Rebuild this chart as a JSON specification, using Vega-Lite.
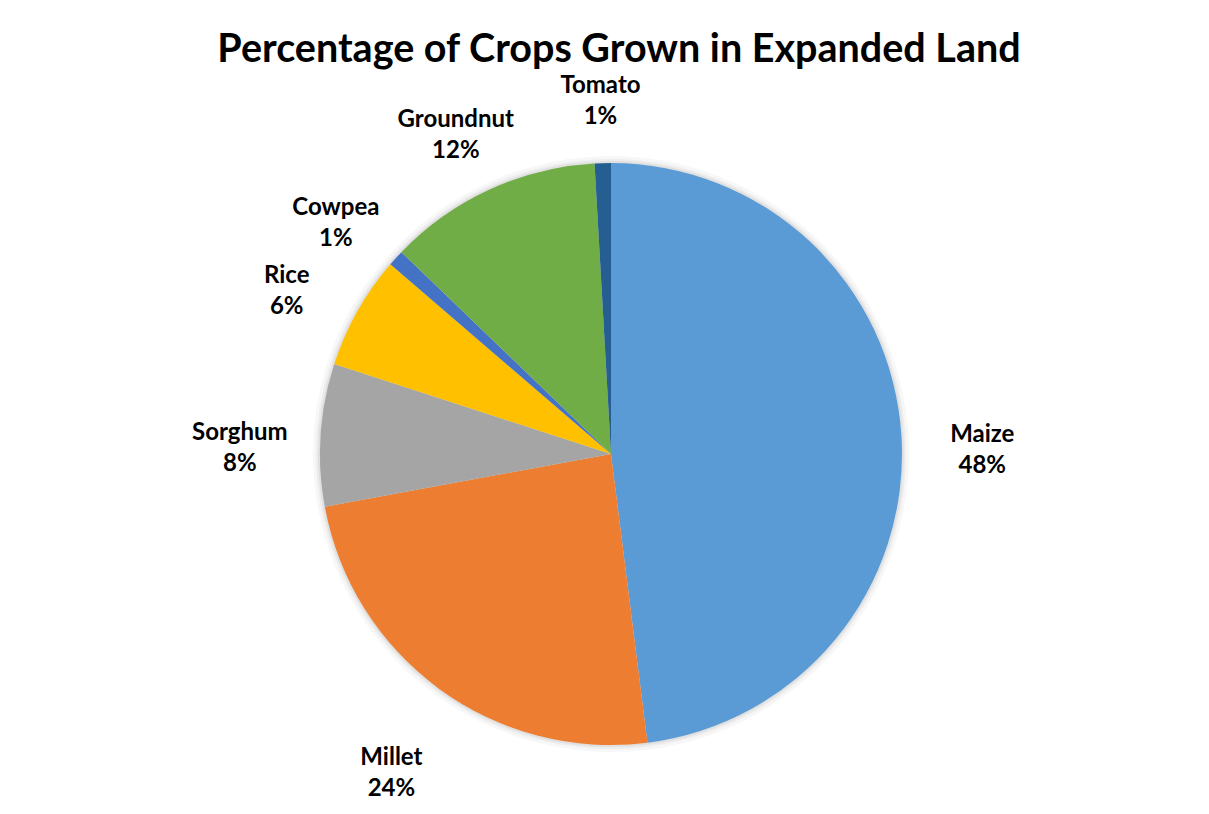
{
  "$schema": "https://vega.github.io/schema/vega-lite/v6.json",
  "width": 1196,
  "height": 720,
  "autosize": {"type": "none"},
  "padding": {"left": 13, "right": 0, "top": 94, "bottom": 0},
  "background": "white",
  "title": {
    "text": "Percentage of Crops Grown in Expanded Land",
    "font": "Lato",
    "fontSize": 39.5,
    "fontWeight": "bold",
    "color": "#000000",
    "offset": 31,
    "dy": 58,
    "dx": 8,
    "baseline": "alphabetic",
    "anchor": "middle"
  },
  "data": {
    "values": [
      {"crop": "Maize", "value": 0.48, "order": 1},
      {"crop": "Millet", "value": 0.241, "order": 2},
      {"crop": "Sorghum", "value": 0.079, "order": 3},
      {"crop": "Rice", "value": 0.063, "order": 4},
      {"crop": "Cowpea", "value": 0.009, "order": 5},
      {"crop": "Groundnut", "value": 0.119, "order": 6},
      {"crop": "Tomato", "value": 0.009, "order": 7}
    ]
  },
  "encoding": {
    "theta": {"field": "value", "type": "quantitative", "stack": true},
    "order": {"field": "order", "type": "quantitative"},
    "detail": {"field": "crop", "type": "nominal"}
  },
  "layer": [
    {"mark": {"type": "arc", "outerRadius": 298, "color": "#000000", "opacity": 0.03}},
    {"mark": {"type": "arc", "outerRadius": 295, "color": "#000000", "opacity": 0.04}},
    {"mark": {"type": "arc", "outerRadius": 293, "color": "#000000", "opacity": 0.05}},
    {
      "mark": {"type": "arc", "outerRadius": 291},
      "encoding": {
        "color": {
          "field": "crop",
          "type": "nominal",
          "scale": {
            "domain": ["Maize", "Millet", "Sorghum", "Rice", "Cowpea", "Groundnut", "Tomato"],
            "range": ["#5B9BD5", "#ED7D31", "#A5A5A5", "#FFC000", "#4472C4", "#70AD47", "#255E91"]
          },
          "legend": null
        }
      }
    },
    {
      "mark": {"type": "text", "radius": 372, "dy": 4, "font": "Lato", "fontSize": 24, "fontWeight": "bold", "color": "#000000"},
      "encoding": {"text": {"field": "crop", "type": "nominal"}}
    },
    {
      "mark": {"type": "text", "radius": 372, "dy": 35, "font": "Lato", "fontSize": 24, "fontWeight": "bold", "color": "#000000"},
      "encoding": {"text": {"field": "value", "type": "quantitative", "format": ".0%"}}
    }
  ],
  "config": {"view": {"stroke": null}}
}
